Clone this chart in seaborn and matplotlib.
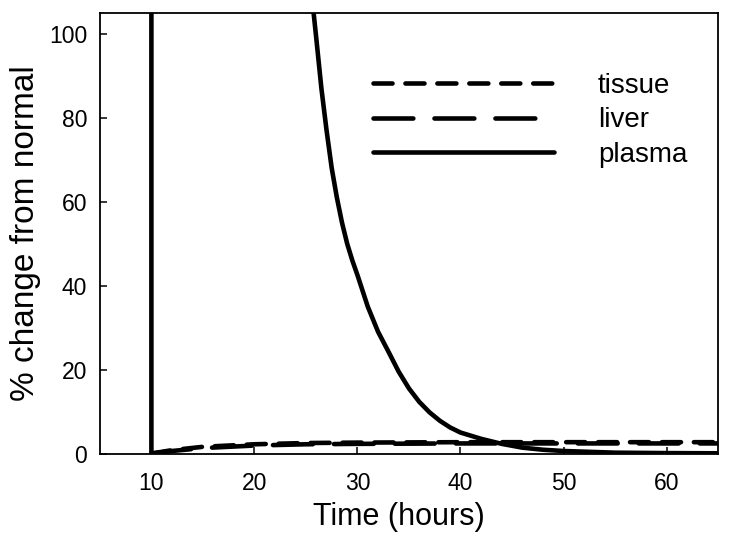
import numpy as np
import pandas as pd
import matplotlib
matplotlib.use("Agg")
import matplotlib.pyplot as plt
import seaborn as sns

# values
plasma_t = [10, 10, 25.7, 26, 26.5, 27, 27.5, 28, 28.5, 29, 29.5, 30, 31, 32,
            33, 34, 35, 36, 37, 38, 39, 40, 42, 44, 46, 48, 50, 55, 60, 65]
plasma_v = [0, 2600, 106, 99, 87, 77, 68, 61, 55, 50, 46, 42.5, 35, 29,
            24.3, 19.5, 15.5, 12.3, 9.8, 7.8, 6.2, 5, 3.5, 2.3, 1.4, 0.9, 0.6,
            0.2, 0.1, 0.05]
tissue_t = [10, 12, 15, 20, 25, 30, 40, 50, 65]
tissue_v = [0, 0.8, 1.6, 2.2, 2.5, 2.6, 2.7, 2.7, 2.7]
liver_t = [10, 12, 15, 20, 25, 30, 40, 50, 65]
liver_v = [0, 0.6, 1.3, 1.9, 2.2, 2.3, 2.4, 2.4, 2.4]

sns.set_style("white")
plt.rcParams["font.family"] = ["Liberation Sans", "DejaVu Sans"]
plt.rcParams["text.color"] = "black"
plt.rcParams["axes.labelcolor"] = "black"
plt.rcParams["lines.scale_dashes"] = False
plt.rcParams["lines.dash_capstyle"] = "round"

fig = plt.figure(figsize=(7.29, 5.39), dpi=100)
ax = fig.add_axes([0.137, 0.1586, 0.848, 0.8178])

lw = 3.3
sns.lineplot(x=tissue_t, y=tissue_v, ax=ax, color="black", linewidth=lw,
             estimator=None, sort=False, label="tissue")
ax.lines[-1].set_dashes((13.7, 9.3))
sns.lineplot(x=liver_t, y=liver_v, ax=ax, color="black", linewidth=lw,
             estimator=None, sort=False, label="liver")
ax.lines[-1].set_dashes((28.7, 15.2))
sns.lineplot(x=plasma_t, y=plasma_v, ax=ax, color="black", linewidth=lw,
             estimator=None, sort=False, label="plasma")
ax.lines[-1].set_solid_capstyle("round")

ax.set_xlim(5, 65)
ax.set_ylim(0, 105)
ax.set_xticks([10, 20, 30, 40, 50, 60])
ax.set_yticks([0, 20, 40, 60, 80, 100])
ax.tick_params(direction="in", length=5, width=1.1, labelsize=16.5, colors="black",
               bottom=True, left=True, top=False, right=False)
ax.tick_params(axis="x", pad=13)
ax.tick_params(axis="y", pad=9)
for s in ax.spines.values():
    s.set_visible(True)
    s.set_color("black")
    s.set_linewidth(1.3)

ax.set_xlabel("Time (hours)", fontsize=22, labelpad=4)
ax.xaxis.set_label_coords(0.483, -0.111)
ax.set_ylabel("% change from normal", fontsize=24, labelpad=6)

leg = ax.legend(loc="upper left", bbox_to_anchor=(373 / 729, 1 - 73 / 539),
                bbox_transform=fig.transFigure, frameon=False, fontsize=20,
                handlelength=6.5, handletextpad=1.6, labelspacing=0.3,
                borderpad=0, borderaxespad=0)
for h in leg.get_lines():
    h.set_dash_capstyle("round")
    h.set_solid_capstyle("round")

fig.savefig("out.png", dpi=100)
